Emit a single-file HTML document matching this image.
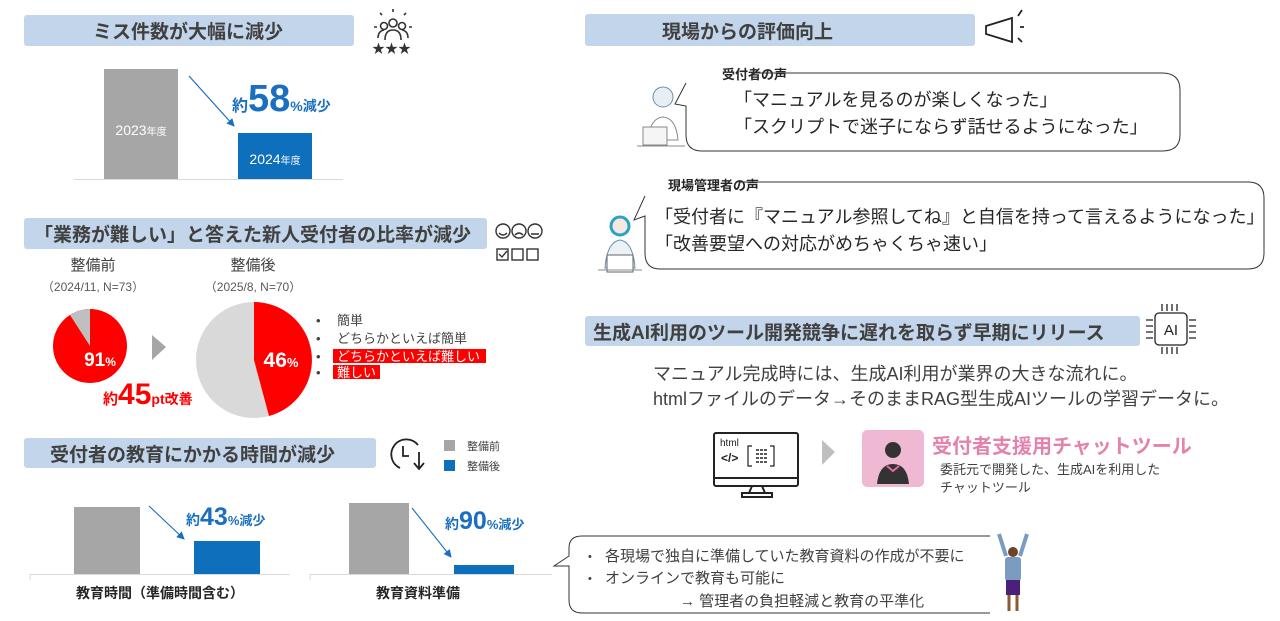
<!DOCTYPE html>
<html><head><meta charset="utf-8">
<style>
html,body{margin:0;padding:0;background:#fff;}
svg{display:block;}
text{font-family:"Liberation Sans","Noto Sans CJK JP",sans-serif;}
</style></head>
<body>
<svg width="1280" height="621" viewBox="0 0 1280 621" xmlns="http://www.w3.org/2000/svg">
<defs>
<marker id="ar" markerWidth="8" markerHeight="8" refX="7" refY="4" orient="auto" markerUnits="userSpaceOnUse">
<path d="M0,0 L8,4 L0,8 z" fill="#1a6fc0"/></marker>
</defs>
<!-- header bars -->
<rect x="24" y="15" width="330" height="31" rx="3" fill="#c2d5ea"/>
<text x="188" y="38" font-size="19" font-weight="bold" fill="#404040" text-anchor="middle">ミス件数が大幅に減少</text>
<rect x="24" y="218" width="463" height="31" rx="3" fill="#c2d5ea"/>
<text x="34" y="241" font-size="19" font-weight="bold" fill="#404040">「業務が難しい」と答えた新人受付者の比率が減少</text>
<rect x="24" y="438" width="352" height="30" rx="3" fill="#c2d5ea"/>
<text x="50" y="461" font-size="19" font-weight="bold" fill="#404040">受付者の教育にかかる時間が減少</text>
<rect x="585" y="14" width="390" height="32" rx="3" fill="#c2d5ea"/>
<text x="662" y="38" font-size="19" font-weight="bold" fill="#404040">現場からの評価向上</text>
<rect x="585" y="316" width="555" height="30" rx="3" fill="#c2d5ea"/>
<text x="593" y="339" font-size="19" font-weight="bold" fill="#404040">生成AI利用のツール開発競争に遅れを取らず早期にリリース</text>

<!-- icon people stars -->
<g stroke="#333" stroke-width="1.6" fill="none">
<circle cx="393" cy="23" r="4"/><circle cx="384" cy="26" r="3.5"/><circle cx="402" cy="26" r="3.5"/>
<path d="M385 40 q0-10 8-10 q8 0 8 10"/><path d="M378 38 q0-7 6-8"/><path d="M408 38 q0-7 -6-8"/>
<path d="M393 9 v3 M380 13 l2 2 M406 13 l-2 2 M374 27 h3 M409 27 h3"/>
</g>
<text x="372" y="53" font-size="13" fill="#333">★★★</text>

<!-- chart 1 -->
<rect x="104" y="69" width="74" height="110" fill="#a6a6a6"/>
<rect x="238" y="133" width="74" height="46" fill="#0e6fbd"/>
<line x1="74" y1="179.5" x2="343" y2="179.5" stroke="#d9d9d9"/>
<text x="141" y="135" font-size="14" fill="#fff" text-anchor="middle">2023<tspan font-size="10">年度</tspan></text>
<text x="275" y="164" font-size="14" fill="#fff" text-anchor="middle">2024<tspan font-size="10">年度</tspan></text>
<line x1="189" y1="76" x2="234" y2="126" stroke="#1a6fc0" stroke-width="1.2" marker-end="url(#ar)"/>
<text x="232" y="111" fill="#1a6fc0" font-weight="bold"><tspan font-size="16">約</tspan><tspan font-size="38">58</tspan><tspan font-size="14">%減少</tspan></text>

<!-- smiley icon -->
<g stroke="#333" stroke-width="1.4" fill="none">
<circle cx="503" cy="231" r="7"/><circle cx="519" cy="231" r="7"/><circle cx="535" cy="231" r="7"/>
<rect x="497" y="249" width="11" height="11"/><rect x="512" y="249" width="11" height="11"/><rect x="527" y="249" width="11" height="11"/>
<path d="M499 233 q4 4 8 0 M515 235 q4 -4 8 0 M531 234 h8 M499 254 l3 3 l5 -6"/>
</g>

<!-- pies -->
<text x="93" y="270" font-size="15" fill="#404040" text-anchor="middle">整備前</text>
<text x="93" y="291" font-size="12" fill="#595959" text-anchor="middle">（2024/11, N=73）</text>
<text x="253" y="270" font-size="15" fill="#404040" text-anchor="middle">整備後</text>
<text x="253" y="291" font-size="12" fill="#595959" text-anchor="middle">（2025/8, N=70）</text>
<circle cx="90" cy="346" r="37" fill="#ff0000"/>
<path d="M90 346 L90 309 A37 37 0 0 0 70 315 Z" fill="#bfbfbf"/>
<text x="100" y="366" font-size="19" fill="#fff" text-anchor="middle" font-weight="bold">91<tspan font-size="12">%</tspan></text>
<polygon points="152,335 166,347 152,360" fill="#a6a6a6"/>
<circle cx="254" cy="360" r="58" fill="#d9d9d9"/>
<path d="M254 360 L254 302 A58 58 0 0 1 269 416 Z" fill="#ff0000"/>
<text x="281" y="367" font-size="21" fill="#fff" text-anchor="middle" font-weight="bold">46<tspan font-size="13">%</tspan></text>
<g font-size="13" fill="#404040">
<text x="337" y="325">簡単</text>
<text x="337" y="343">どちらかといえば簡単</text>
<rect x="333" y="349" width="153" height="14" fill="#ff0000"/>
<text x="337" y="361" fill="#fff">どちらかといえば難しい</text>
<rect x="333" y="365" width="47" height="14" fill="#ff0000"/>
<text x="337" y="377" fill="#fff">難しい</text>
<text x="316" y="325">•</text><text x="316" y="343">•</text><text x="316" y="361">•</text><text x="316" y="377">•</text>
</g>
<text x="103" y="404" fill="#ff0000" font-weight="bold"><tspan font-size="15">約</tspan><tspan font-size="30">45</tspan><tspan font-size="14">pt改善</tspan></text>

<!-- clock icon -->
<g stroke="#222" stroke-width="1.8" fill="none">
<path d="M418 445 A15 15 0 1 0 400 468"/>
<path d="M403 446 v10 h6"/>
<path d="M419 452 v16 M414 463 l5 6 l5 -6"/>
</g>
<rect x="444" y="440" width="11" height="11" fill="#a6a6a6"/>
<text x="467" y="450" font-size="11" fill="#404040">整備前</text>
<rect x="444" y="460" width="11" height="11" fill="#0e6fbd"/>
<text x="467" y="470" font-size="11" fill="#404040">整備後</text>

<!-- chart 3 -->
<rect x="74" y="507" width="66" height="67" fill="#a6a6a6"/>
<rect x="194" y="541" width="66" height="33" fill="#0e6fbd"/>
<line x1="30" y1="574.5" x2="290" y2="574.5" stroke="#d9d9d9"/>
<line x1="30" y1="574" x2="30" y2="580" stroke="#d9d9d9"/>
<rect x="349" y="503" width="60" height="71" fill="#a6a6a6"/>
<rect x="454" y="565" width="60" height="9" fill="#0e6fbd"/>
<line x1="310" y1="574.5" x2="552" y2="574.5" stroke="#d9d9d9"/>
<line x1="310" y1="574" x2="310" y2="580" stroke="#d9d9d9"/>
<line x1="149" y1="506" x2="184" y2="539" stroke="#1a6fc0" stroke-width="1.1" marker-end="url(#ar)"/>
<line x1="412" y1="508" x2="451" y2="557" stroke="#1a6fc0" stroke-width="1.1" marker-end="url(#ar)"/>
<text x="186" y="525" fill="#1a6fc0" font-weight="bold"><tspan font-size="14">約</tspan><tspan font-size="25">43</tspan><tspan font-size="13">%減少</tspan></text>
<text x="445" y="529" fill="#1a6fc0" font-weight="bold"><tspan font-size="14">約</tspan><tspan font-size="25">90</tspan><tspan font-size="13">%減少</tspan></text>
<text x="160" y="598" font-size="14" fill="#262626" text-anchor="middle" font-weight="bold">教育時間（準備時間含む）</text>
<text x="418" y="598" font-size="14" fill="#262626" text-anchor="middle" font-weight="bold">教育資料準備</text>

<!-- bottom callout -->
<path d="M990 536 H582 Q569 536 569 548 V556 L554 566 L569 566 V600 Q569 613 582 613 H990" fill="none" stroke="#333" stroke-width="1"/>
<g font-size="15" fill="#404040">
<text x="588" y="560" font-size="11">•</text><text x="605" y="561">各現場で独自に準備していた教育資料の作成が不要に</text>
<text x="588" y="582" font-size="11">•</text><text x="605" y="583">オンラインで教育も可能に</text>
<text x="680" y="606">→ 管理者の負担軽減と教育の平準化</text>
</g>
<!-- cheering woman -->
<g>
<path d="M999 534 L1006 556 M1027 534 L1020 556" stroke="#7a9cbf" stroke-width="4"/>
<circle cx="1013" cy="552" r="5" fill="#6b4426"/>
<rect x="1005" y="557" width="16" height="24" rx="3" fill="#7a9cbf"/>
<rect x="1006" y="580" width="14" height="15" fill="#4b1f7a"/>
<path d="M1009 595 v16 M1017 595 v16" stroke="#8a5a30" stroke-width="3"/>
</g>

<!-- megaphone -->
<g stroke="#222" stroke-width="1.8" fill="none">
<path d="M986 26 L1012 18 L1012 42 L986 34 Z"/>
<path d="M1022 10 l-4 6 M1024 27 h-4 M1022 42 l-4 -4"/>
</g>

<!-- voice 1 -->
<text x="722" y="79" font-size="13" fill="#262626" font-weight="bold">受付者の声</text>
<path d="M751 73 H1162 Q1180 73 1180 90 V135 Q1180 151 1162 151 H702 Q686 151 686 135 V106 L675 104 L686 83" fill="none" stroke="#333" stroke-width="1"/>
<text x="734" y="106" font-size="18" fill="#262626">「マニュアルを見るのが楽しくなった」</text>
<text x="734" y="133" font-size="18" fill="#262626">「スクリプトで迷子にならず話せるようになった」</text>
<!-- person 1 -->
<g>
<circle cx="663" cy="97" r="10" fill="#e8eef3" stroke="#6a8fa8"/>
<path d="M648 140 q2-22 15-23 q13 1 15 23 z" fill="#fff" stroke="#888"/>
<rect x="643" y="127" width="24" height="18" fill="#f5f5f5" stroke="#888"/>
<line x1="637" y1="146" x2="685" y2="146" stroke="#888"/>
</g>

<!-- voice 2 -->
<text x="668" y="190" font-size="13" fill="#262626" font-weight="bold">現場管理者の声</text>
<path d="M740 182 H1248 Q1264 182 1264 198 V253 Q1264 269 1248 269 H660 Q645 269 645 253 V216 L634 220 L645 196" fill="none" stroke="#333" stroke-width="1"/>
<text x="655" y="223" font-size="18" fill="#262626">「受付者に『マニュアル参照してね』と自信を持って言えるようになった」</text>
<text x="655" y="250" font-size="18" fill="#262626">「改善要望への対応がめちゃくちゃ速い」</text>
<g>
<circle cx="620" cy="226" r="9" fill="#f5e8e0" stroke="#2aa3c4" stroke-width="3"/>
<path d="M605 268 q2-26 15-28 q13 2 15 28 z" fill="#eaf3f8" stroke="#6a8fa8"/>
<rect x="607" y="255" width="26" height="17" fill="#fff" stroke="#666"/>
<line x1="598" y1="270" x2="642" y2="270" stroke="#888"/>
</g>

<!-- AI chip -->
<g stroke="#222" stroke-width="1.3" fill="none">
<rect x="1155" y="313" width="32" height="32" rx="4"/>
<path d="M1162 304 v7 M1167 304 v7 M1172 304 v7 M1177 304 v7 M1162 347 v7 M1167 347 v7 M1172 347 v7 M1177 347 v7 M1146 320 h7 M1146 326 h7 M1146 332 h7 M1146 338 h7 M1189 320 h7 M1189 326 h7 M1189 332 h7 M1189 338 h7"/>
</g>
<text x="1171" y="335" font-size="15" fill="#222" text-anchor="middle">AI</text>
<text x="653" y="380" font-size="18" fill="#404040">マニュアル完成時には、生成AI利用が業界の大きな流れに。</text>
<text x="653" y="405" font-size="18" fill="#404040">htmlファイルのデータ→そのままRAG型生成AIツールの学習データに。</text>

<!-- monitor -->
<g stroke="#222" stroke-width="2" fill="none">
<rect x="714" y="433" width="84" height="53" rx="2"/>
<line x1="714" y1="478" x2="798" y2="478"/>
<path d="M752 486 l-3 7 M762 486 l3 7"/>
<rect x="742" y="493" width="30" height="4"/>
<path d="M752 446 h-4 v20 h4 M770 446 h4 v20 h-4" stroke-width="1.2"/>
<path d="M756 450 h12 M756 454 h12 M756 458 h12 M756 462 h12" stroke-width="1.5" stroke-dasharray="3 1"/>
</g>
<text x="720" y="446" font-size="10" fill="#222">html</text>
<text x="721" y="462" font-size="12" fill="#222" font-weight="bold">&lt;/&gt;</text>
<polygon points="822,440 835,452 822,465" fill="#bfbfbf"/>
<rect x="862" y="430" width="62" height="57" rx="5" fill="#f0b9d3"/>
<circle cx="893" cy="450" r="8" fill="#333"/>
<path d="M877 484 q2-20 16-20 q14 0 16 20 z" fill="#333"/>
<path d="M887 466 l6 5 l6 -5" stroke="#e86aa0" stroke-width="2" fill="none"/>
<text x="932" y="453" font-size="20" fill="#e383ad" font-weight="bold">受付者支援用チャットツール</text>
<text x="940" y="474" font-size="13" fill="#404040">委託元で開発した、生成AIを利用した</text>
<text x="940" y="492" font-size="13" fill="#404040">チャットツール</text>
</svg>
</body></html>
